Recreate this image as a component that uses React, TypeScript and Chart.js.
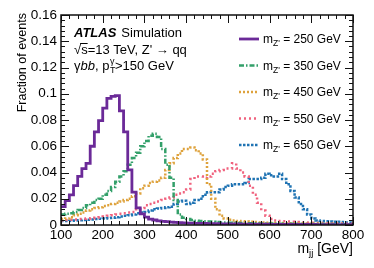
import { useEffect, useRef } from 'react';
import { Chart, registerables } from 'chart.js';
Chart.register(...registerables);

// Bin edges of the m_jj histograms [GeV]
const binEdges = [100,110,120,130,140,150,160,170,180,190,200,210,220,230,240,250,260,270,280,290,300,310,320,330,340,350,360,370,380,390,400,410,420,430,440,450,460,470,480,490,500,510,520,530,540,550,560,570,580,590,600,610,620,630,640,650,660,670,680,690,700,710,720,730,740,750,760,770,780,790,800];

const mZ250 = [0.014,0.0185,0.023,0.030,0.037,0.043,0.047,0.060,0.071,0.0795,0.089,0.0965,0.098,0.0985,0.087,0.071,0.042,0.025,0.013,0.0085,0.006,0.0045,0.0038,0.0032,0.0028,0.0025,0.0022,0.002,0.0018,0.0016,0.0015,0.0014,0.0013,0.0012,0.0012,0.0011,0.001,0.001,0.0009,0.0009,0.0008,0.0008,0.0008,0.0007,0.0007,0.0007,0.0006,0.0006,0.0006,0.0006,0.0005,0.0005,0.0005,0.0005,0.0005,0.0004,0.0004,0.0004,0.0004,0.0004,0.0004,0.0003,0.0003,0.0003,0.0003,0.0003,0.0003,0.0003,0.0003,0.0003];
const mZ350 = [0.008,0.0085,0.009,0.010,0.0115,0.013,0.015,0.017,0.019,0.020,0.023,0.026,0.029,0.033,0.037,0.041,0.046,0.051,0.055,0.060,0.064,0.068,0.0695,0.067,0.058,0.046,0.036,0.019,0.008,0.0055,0.0045,0.0038,0.0033,0.003,0.0028,0.0026,0.0024,0.0022,0.002,0.0019,0.0018,0.0017,0.0016,0.0015,0.0014,0.0013,0.0013,0.0012,0.0012,0.0011,0.0011,0.001,0.001,0.001,0.0009,0.0009,0.0009,0.0008,0.0008,0.0008,0.0008,0.0007,0.0007,0.0007,0.0007,0.0006,0.0006,0.0006,0.0006,0.0006];
const mZ450 = [0.0045,0.005,0.006,0.0075,0.0085,0.0095,0.011,0.012,0.013,0.0135,0.0145,0.015,0.016,0.017,0.018,0.019,0.020,0.022,0.024,0.028,0.030,0.032,0.033,0.034,0.036,0.042,0.047,0.051,0.0545,0.058,0.058,0.059,0.057,0.0545,0.050,0.031,0.020,0.012,0.007,0.005,0.004,0.0035,0.003,0.0028,0.0026,0.0024,0.0022,0.002,0.0019,0.0018,0.0017,0.0016,0.0015,0.0014,0.0013,0.0012,0.0012,0.0011,0.001,0.001,0.0009,0.0009,0.0008,0.0008,0.0008,0.0007,0.0007,0.0007,0.0006,0.0006];
const mZ550 = [0.0035,0.0038,0.004,0.0042,0.0045,0.0048,0.005,0.0052,0.0055,0.006,0.0065,0.007,0.0075,0.008,0.0085,0.009,0.0095,0.010,0.012,0.013,0.015,0.016,0.017,0.018,0.019,0.020,0.021,0.023,0.024,0.025,0.027,0.035,0.037,0.037,0.036,0.037,0.039,0.041,0.042,0.043,0.043,0.047,0.043,0.040,0.037,0.030,0.023,0.017,0.011,0.007,0.0045,0.0035,0.003,0.0028,0.0026,0.0024,0.0022,0.002,0.0019,0.0018,0.0017,0.0016,0.0015,0.0014,0.0013,0.0012,0.0012,0.0011,0.001,0.001];
const mZ650 = [0.003,0.003,0.0032,0.0034,0.0036,0.0038,0.004,0.0042,0.0045,0.0048,0.005,0.0053,0.0056,0.006,0.0065,0.007,0.0075,0.008,0.009,0.0095,0.010,0.011,0.012,0.0125,0.013,0.0135,0.014,0.016,0.018,0.0185,0.016,0.017,0.019,0.020,0.023,0.025,0.025,0.025,0.027,0.029,0.030,0.031,0.031,0.031,0.032,0.035,0.035,0.035,0.036,0.039,0.038,0.037,0.039,0.035,0.031,0.026,0.021,0.016,0.012,0.008,0.005,0.0035,0.003,0.0028,0.0026,0.0025,0.0024,0.0022,0.002,0.002];

const seriesLabels = ['250 GeV', '350 GeV', '450 GeV', '550 GeV', '650 GeV'];
const seriesValues = [mZ250, mZ350, mZ450, mZ550, mZ650];
const seriesColors = ['#6b2a98', '#33a06a', '#dea23c', '#f0627e', '#1f73b3'];
const seriesDashes: number[][] = [[], [5, 2, 1.5, 2], [2, 2], [2, 3], [2.5, 1.5]];
const seriesWidths = [2.8, 2.5, 2.5, 2.5, 2.5];

const yTickLabels = ['0', '0.02', '0.04', '0.06', '0.08', '0.1', '0.12', '0.14', '0.16'];
const xTickStep = 100;

const FONT = "'Liberation Sans', Arial, sans-serif";

const framePlugin = {
  id: 'atlasFrame',
  afterDatasetsDraw(chart: any) {
    const { ctx, chartArea } = chart;
    const { left, right, top, bottom } = chartArea;
    const xs = chart.scales.x;
    const ys = chart.scales.y;
    ctx.save();
    ctx.strokeStyle = '#111';
    ctx.lineWidth = 1.5;
    ctx.strokeRect(left, top, right - left, bottom - top);
    ctx.lineWidth = 1;
    ctx.beginPath();
    for (let v = 100; v <= 800; v += 20) {
      const px = Math.round(xs.getPixelForValue(v)) + 0.5;
      const len = v % 100 === 0 ? 8 : 4;
      ctx.moveTo(px, bottom); ctx.lineTo(px, bottom - len);
      ctx.moveTo(px, top); ctx.lineTo(px, top + len);
    }
    for (let k = 0; k <= 40; k++) {
      const v = k * 0.004;
      const py = Math.round(ys.getPixelForValue(v)) + 0.5;
      const len = k % 5 === 0 ? 8 : 4;
      ctx.moveTo(left, py); ctx.lineTo(left + len, py);
      ctx.moveTo(right, py); ctx.lineTo(right - len, py);
    }
    ctx.stroke();
    ctx.restore();
  },
  afterDraw(chart: any) {
    const { ctx } = chart;
    ctx.save();
    ctx.fillStyle = '#000';
    ctx.textBaseline = 'alphabetic';
    // ATLAS label
    ctx.font = `italic bold 13px ${FONT}`;
    ctx.fillText('ATLAS', 74, 37);
    const wA = ctx.measureText('ATLAS').width;
    ctx.font = `13px ${FONT}`;
    ctx.fillText('Simulation', 74 + wA + 5, 37);
    // line 2
    let x = 74;
    const y2 = 54;
    ctx.fillText('√', x, y2);
    const wr = ctx.measureText('√').width;
    x += wr;
    ctx.fillText('s', x, y2);
    const ws = ctx.measureText('s').width;
    ctx.beginPath();
    ctx.lineWidth = 1;
    ctx.strokeStyle = '#000';
    ctx.moveTo(x - 1, y2 - 10.5);
    ctx.lineTo(x + ws, y2 - 10.5);
    ctx.stroke();
    x += ws;
    ctx.fillText("=13 TeV, Z' → qq", x, y2);
    // line 3
    x = 74;
    const y3 = 70;
    ctx.fillText('γ', x, y3);
    x += ctx.measureText('γ').width;
    ctx.font = `italic 13px ${FONT}`;
    ctx.fillText('bb', x, y3);
    x += ctx.measureText('bb').width;
    ctx.font = `13px ${FONT}`;
    ctx.fillText(', p', x, y3);
    x += ctx.measureText(', p').width + 0.5;
    ctx.font = `9px ${FONT}`;
    ctx.fillText('γ', x, y3 - 6);
    ctx.fillText('T', x, y3 + 3);
    x += ctx.measureText('γ').width + 0.5;
    ctx.font = `13px ${FONT}`;
    ctx.fillText('>150 GeV', x, y3);

    // legend
    seriesLabels.forEach((lab, i) => {
      const yc = 39 + i * 26.5;
      ctx.save();
      ctx.strokeStyle = seriesColors[i];
      ctx.lineWidth = seriesWidths[i];
      ctx.setLineDash(seriesDashes[i]);
      ctx.beginPath();
      ctx.moveTo(239, yc);
      ctx.lineTo(259, yc);
      ctx.stroke();
      ctx.restore();
      let lx = 263;
      const base = yc + 4;
      ctx.font = `12px ${FONT}`;
      ctx.fillText('m', lx, base);
      lx += ctx.measureText('m').width;
      ctx.font = `8.5px ${FONT}`;
      ctx.fillText("Z'", lx, base + 3);
      lx += ctx.measureText("Z'").width;
      ctx.font = `12px ${FONT}`;
      ctx.fillText(' = ' + lab, lx, base);
    });

    // x title
    ctx.font = `14px ${FONT}`;
    const tail = ' [GeV]';
    const wTail = ctx.measureText(tail).width;
    const wm = ctx.measureText('m').width;
    ctx.font = `9.5px ${FONT}`;
    const wjj = ctx.measureText('jj').width;
    const xr = chart.chartArea.right;
    const by = 253;
    let tx = xr - wTail - wjj - wm;
    ctx.font = `14px ${FONT}`;
    ctx.fillText('m', tx, by);
    tx += wm;
    ctx.font = `9.5px ${FONT}`;
    ctx.fillText('jj', tx, by + 3);
    tx += wjj;
    ctx.font = `14px ${FONT}`;
    ctx.fillText(tail, tx, by);

    // y title
    ctx.save();
    ctx.translate(23, chart.chartArea.top - 2);
    ctx.rotate(-Math.PI / 2);
    ctx.textAlign = 'right';
    ctx.textBaseline = 'middle';
    ctx.font = `12.5px ${FONT}`;
    ctx.fillText('Fraction of events', 0, 0);
    ctx.restore();
    ctx.restore();
  },
};

export default function App() {
  const ref = useRef<HTMLCanvasElement>(null);
  useEffect(() => {
    if (!ref.current) return;
    const datasets = seriesValues.map((vals, i) => ({
      label: seriesLabels[i],
      data: binEdges.map((e, j) => ({ x: e, y: vals[Math.min(j, vals.length - 1)] })),
      borderColor: seriesColors[i],
      borderWidth: seriesWidths[i],
      borderDash: seriesDashes[i],
      borderCapStyle: 'butt' as const,
      stepped: 'before' as const,
      pointRadius: 0,
      fill: false,
    }));
    const chart = new Chart(ref.current, {
      type: 'line',
      data: { datasets },
      options: {
        animation: false,
        responsive: false,
        maintainAspectRatio: false,
        layout: { padding: { top: 15, right: 21, left: 0, bottom: 0 } },
        plugins: { legend: { display: false }, tooltip: { enabled: false } },
        scales: {
          x: {
            type: 'linear',
            min: 100,
            max: 800,
            grid: { display: false, drawTicks: false },
            border: { display: false },
            ticks: {
              stepSize: xTickStep,
              autoSkip: false,
              maxRotation: 0,
              padding: 2,
              color: '#000',
              font: { family: FONT, size: 13.5 },
              callback: (v: any) => String(v),
            },
            afterFit: (s: any) => { s.height = 43; },
          },
          y: {
            type: 'linear',
            min: 0,
            max: 0.16,
            grid: { display: false, drawTicks: false },
            border: { display: false },
            ticks: {
              stepSize: 0.02,
              autoSkip: false,
              padding: 4,
              color: '#000',
              font: { family: FONT, size: 13.5 },
              callback: (v: any) => {
                const k = Math.round(Number(v) / 0.02);
                return yTickLabels[k] ?? '';
              },
            },
            afterFit: (s: any) => { s.width = 61; },
          },
        },
      },
      plugins: [framePlugin],
    });
    return () => chart.destroy();
  }, []);
  return (
    <div style={{ position: 'fixed', left: 0, top: 0, width: 374, height: 268, background: '#fff' }}>
      <canvas ref={ref} width={374} height={268} style={{ width: 374, height: 268, display: 'block' }} />
    </div>
  );
}
